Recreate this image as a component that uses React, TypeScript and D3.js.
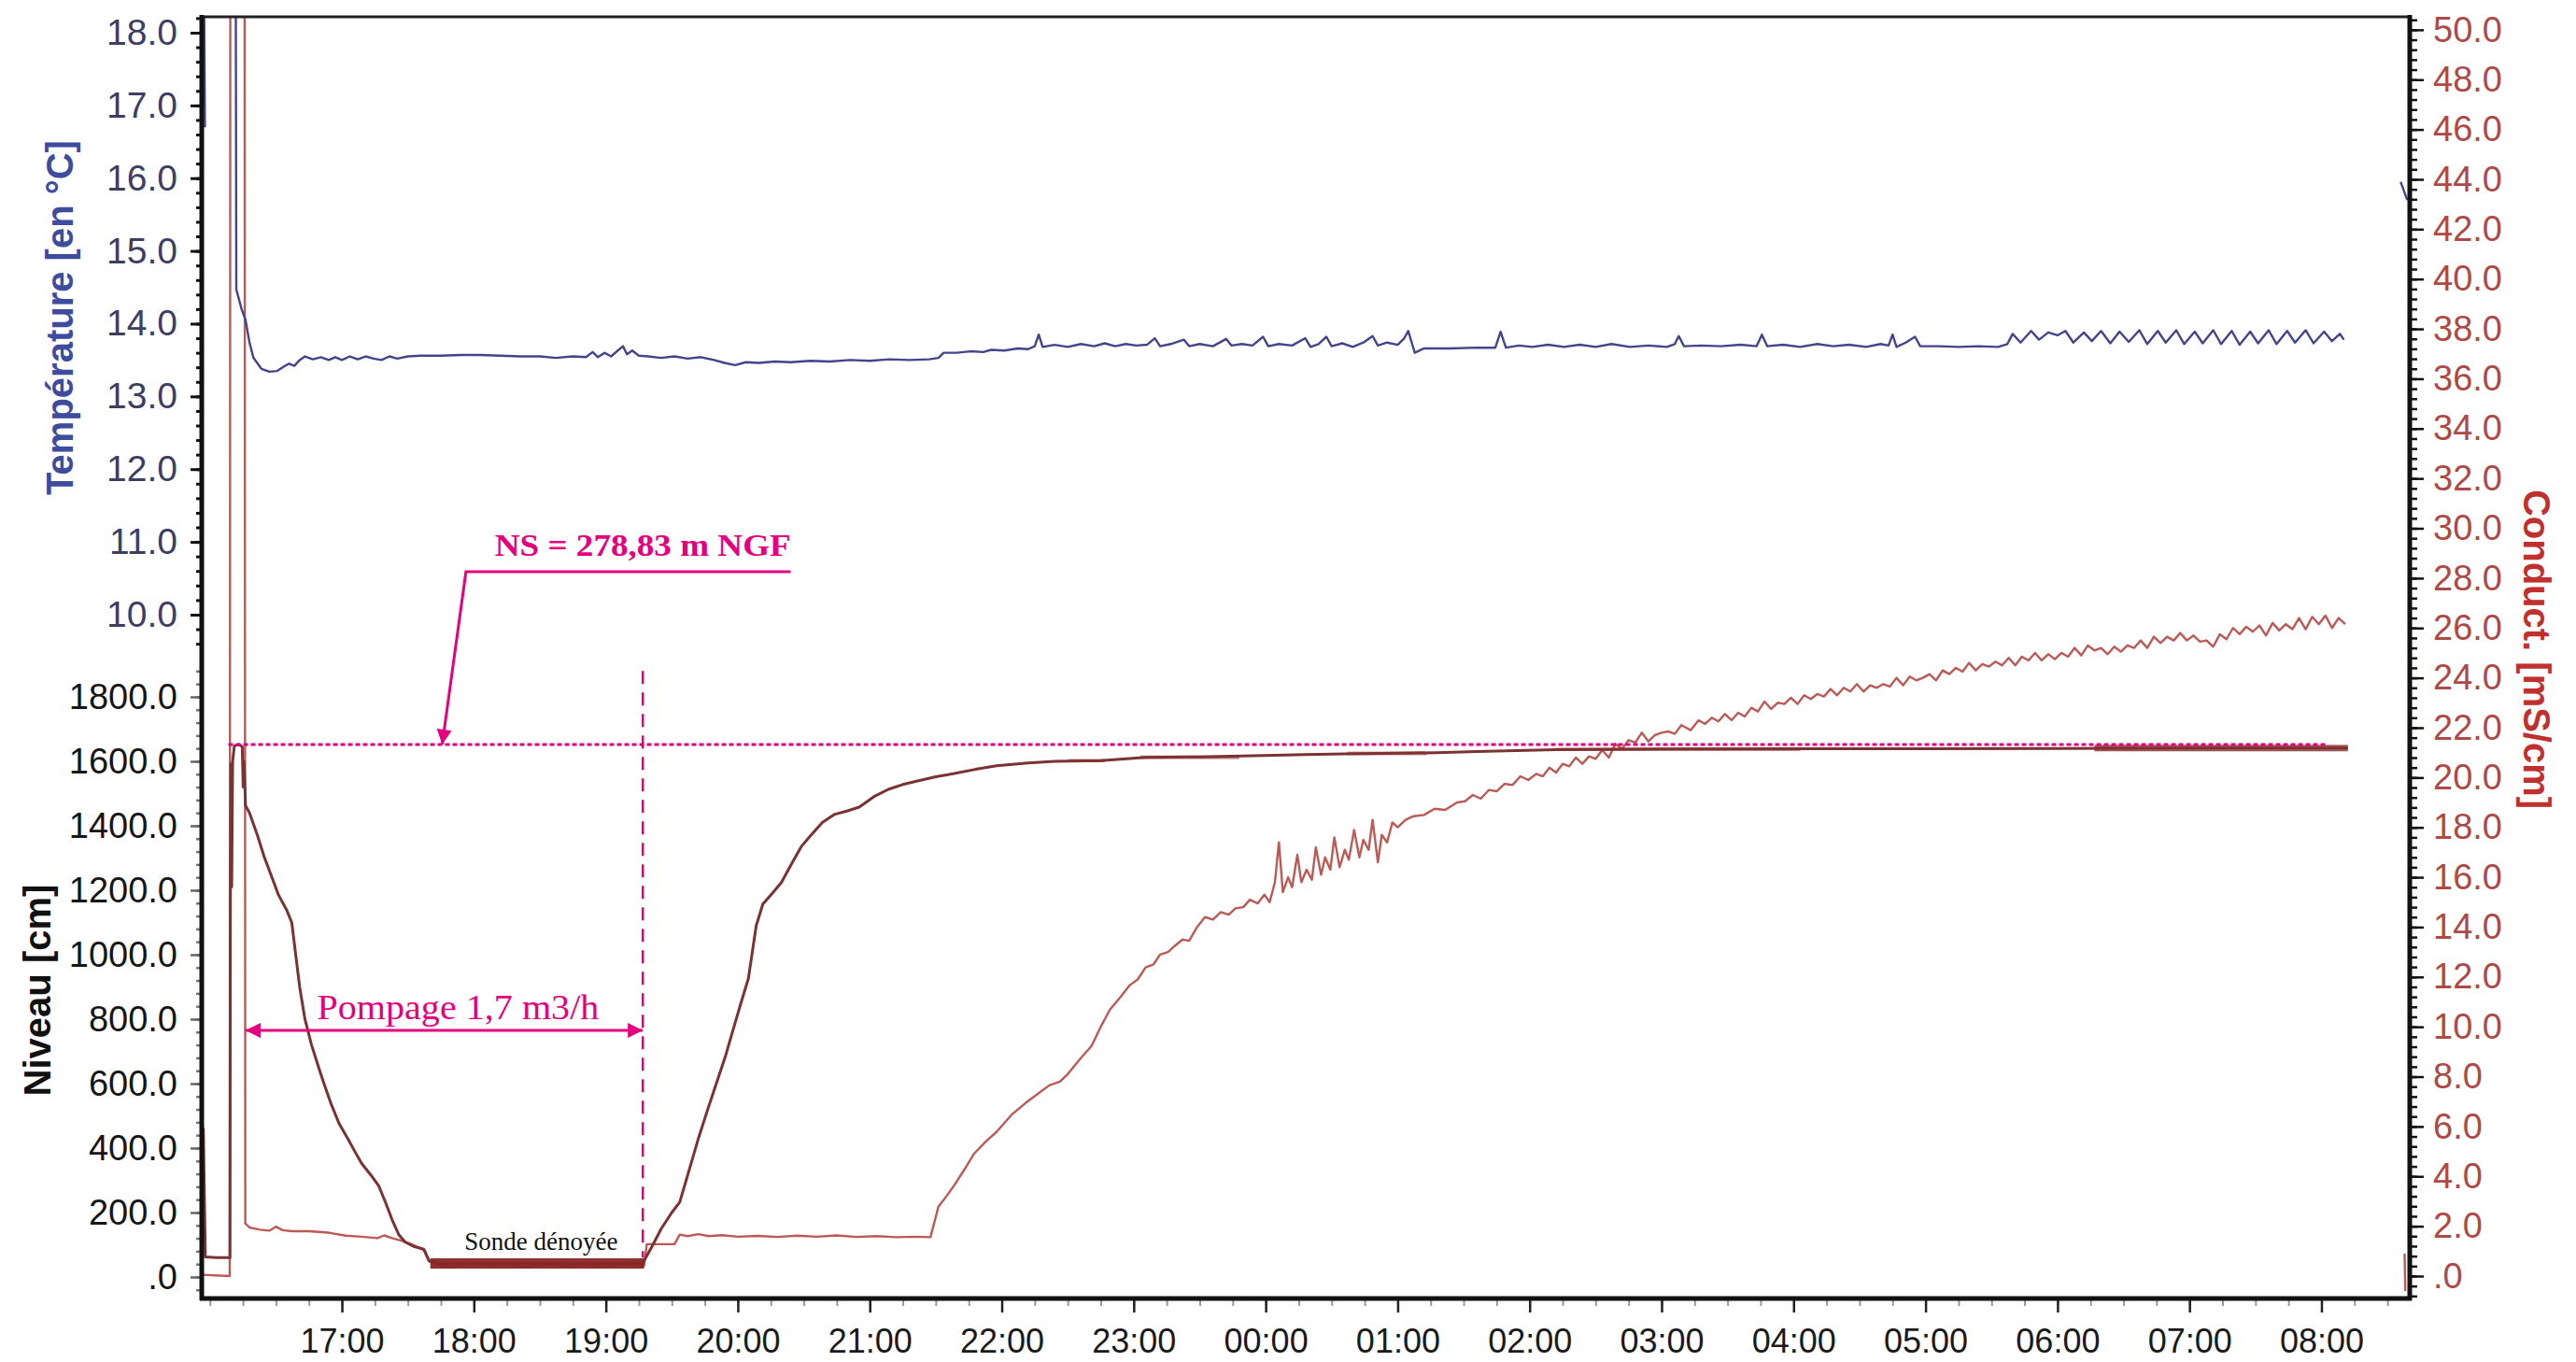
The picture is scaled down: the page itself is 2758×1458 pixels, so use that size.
import React, { useEffect, useRef } from 'react';
import * as d3 from 'd3';

const W = 2758;
const H = 1458;
const plot = { left: 216, right: 2580, top: 18, bottom: 1390 };

// time in decimal hours (values above 24 are the next morning)
const hourDomain = [15.938, 32.669];
const hourTicks = [17, 18, 19, 20, 21, 22, 23, 24, 25, 26, 27, 28, 29, 30, 31, 32];

const tempDomain = [0.6, 18.218];
const tempTicks = [10, 11, 12, 13, 14, 15, 16, 17, 18];
const levelDomain = [-66.7, 3910];
const levelTicks = [0, 200, 400, 600, 800, 1000, 1200, 1400, 1600, 1800];
const condDomain = [-0.9, 50.52];
const condTicks = [0, 2, 4, 6, 8, 10, 12, 14, 16, 18, 20, 22, 24, 26, 28, 30, 32, 34, 36, 38, 40, 42, 44, 46, 48, 50];

// Température [°C]
const temperatureHead = [[15.953, 19.5], [15.958, 17.9], [15.962, 16.7]];
const temperature = [
  [16.195, 19.5], [16.2, 14.47], [16.24, 14.2], [16.27, 14.05], [16.3, 13.74], [16.33, 13.53], [16.39, 13.38],
  [16.45, 13.34], [16.51, 13.35], [16.56, 13.41], [16.6, 13.45], [16.64, 13.42], [16.68, 13.5], [16.72, 13.55],
  [16.78, 13.51], [16.84, 13.54], [16.9, 13.5], [16.95, 13.54], [17.0, 13.5], [17.06, 13.55], [17.12, 13.51],
  [17.18, 13.55], [17.24, 13.52], [17.3, 13.5], [17.36, 13.55], [17.42, 13.52], [17.5, 13.55], [17.6, 13.56],
  [17.75, 13.56], [17.9, 13.57], [18.05, 13.57], [18.2, 13.56], [18.35, 13.55], [18.5, 13.55], [18.62, 13.53],
  [18.75, 13.55], [18.85, 13.54], [18.9, 13.61], [18.94, 13.54], [18.99, 13.6], [19.04, 13.55], [19.09, 13.63],
  [19.13, 13.69], [19.16, 13.58], [19.2, 13.63], [19.25, 13.56], [19.32, 13.55], [19.42, 13.53], [19.52, 13.55],
  [19.62, 13.52], [19.72, 13.54], [19.82, 13.5], [19.9, 13.46], [19.98, 13.43], [20.06, 13.47], [20.16, 13.46],
  [20.28, 13.48], [20.4, 13.47], [20.55, 13.49], [20.7, 13.48], [20.85, 13.5], [21.0, 13.49], [21.15, 13.51],
  [21.3, 13.5], [21.45, 13.51], [21.52, 13.53], [21.56, 13.6], [21.66, 13.6], [21.76, 13.62], [21.86, 13.61],
  [21.92, 13.64], [22.02, 13.63], [22.12, 13.66], [22.2, 13.65], [22.25, 13.69], [22.28, 13.85], [22.31, 13.68],
  [22.4, 13.71], [22.5, 13.68], [22.6, 13.72], [22.7, 13.69], [22.78, 13.73], [22.86, 13.69], [22.94, 13.72],
  [23.02, 13.7], [23.1, 13.71], [23.16, 13.8], [23.2, 13.69], [23.28, 13.72], [23.38, 13.78], [23.42, 13.69],
  [23.5, 13.72], [23.6, 13.69], [23.7, 13.79], [23.74, 13.7], [23.82, 13.72], [23.9, 13.7], [23.98, 13.82],
  [24.02, 13.69], [24.1, 13.72], [24.2, 13.7], [24.3, 13.8], [24.34, 13.68], [24.4, 13.72], [24.46, 13.82],
  [24.5, 13.69], [24.58, 13.73], [24.66, 13.68], [24.74, 13.74], [24.81, 13.83], [24.85, 13.7], [24.92, 13.74],
  [25.0, 13.71], [25.05, 13.8], [25.08, 13.9], [25.13, 13.6], [25.2, 13.66], [25.4, 13.66], [25.6, 13.67],
  [25.74, 13.67], [25.78, 13.89], [25.82, 13.67], [25.92, 13.7], [26.02, 13.68], [26.14, 13.71], [26.26, 13.68],
  [26.38, 13.71], [26.5, 13.68], [26.62, 13.72], [26.76, 13.68], [26.9, 13.7], [27.04, 13.68], [27.1, 13.72],
  [27.13, 13.83], [27.17, 13.69], [27.3, 13.7], [27.45, 13.69], [27.6, 13.71], [27.72, 13.69], [27.76, 13.85],
  [27.8, 13.69], [27.92, 13.71], [28.05, 13.68], [28.18, 13.72], [28.3, 13.69], [28.42, 13.71], [28.55, 13.68],
  [28.66, 13.72], [28.72, 13.7], [28.75, 13.85], [28.78, 13.68], [28.85, 13.74], [28.92, 13.82], [28.96, 13.69],
  [29.1, 13.69], [29.25, 13.68], [29.4, 13.69], [29.55, 13.68], [29.62, 13.72], [29.66, 13.86], [29.72, 13.74],
  [29.8, 13.9], [29.86, 13.78], [29.93, 13.88], [30.0, 13.84], [30.06, 13.9], [30.12, 13.74], [30.2, 13.88],
  [30.26, 13.76], [30.33, 13.9], [30.4, 13.73], [30.47, 13.89], [30.54, 13.75], [30.62, 13.91], [30.68, 13.72],
  [30.76, 13.9], [30.82, 13.74], [30.9, 13.91], [30.96, 13.72], [31.04, 13.89], [31.1, 13.73], [31.18, 13.91],
  [31.24, 13.72], [31.32, 13.9], [31.38, 13.71], [31.46, 13.89], [31.52, 13.73], [31.6, 13.91], [31.66, 13.72],
  [31.74, 13.9], [31.8, 13.74], [31.88, 13.91], [31.94, 13.73], [32.02, 13.89], [32.08, 13.76], [32.14, 13.86],
  [32.17, 13.78],
];
const temperatureTail = [[32.6, 15.95], [32.65, 15.7]];

// Niveau [cm]
const level = [
  [15.95, 462], [15.958, 250], [15.965, 62], [16.05, 60], [16.152, 60], [16.155, 1180], [16.16, 1592],
  [16.165, 1210], [16.172, 1600], [16.185, 1648], [16.22, 1652], [16.245, 1645], [16.252, 1520], [16.258, 1600],
  [16.27, 1462], [16.3, 1440], [16.36, 1370], [16.41, 1305], [16.47, 1240], [16.52, 1185], [16.58, 1140],
  [16.62, 1100], [16.65, 1000], [16.68, 900], [16.72, 800], [16.77, 720], [16.82, 655], [16.86, 605],
  [16.92, 535], [16.98, 475], [17.05, 425], [17.1, 388], [17.15, 352], [17.22, 316], [17.28, 282],
  [17.33, 232], [17.38, 178], [17.43, 132], [17.48, 108], [17.55, 94], [17.62, 86], [17.66, 50],
  [17.75, 42], [18.2, 43], [18.7, 41], [19.28, 43],
  [19.3, 58], [19.35, 95], [19.42, 150], [19.5, 200], [19.56, 232], [19.63, 330], [19.7, 428], [19.78, 530],
  [19.85, 616], [19.91, 690], [19.96, 761], [20.02, 845], [20.08, 926], [20.14, 1091], [20.19, 1157],
  [20.26, 1190], [20.33, 1224], [20.42, 1291], [20.48, 1335], [20.55, 1369], [20.64, 1410], [20.73, 1435],
  [20.82, 1445], [20.92, 1458], [21.03, 1490], [21.14, 1513], [21.25, 1528], [21.37, 1540], [21.5, 1552],
  [21.64, 1562], [21.8, 1575], [21.96, 1586], [22.2, 1595], [22.4, 1600], [22.75, 1602], [23.09, 1612],
  [23.5, 1614], [23.99, 1618], [24.3, 1621], [24.6, 1623], [25.0, 1625], [25.3, 1627], [25.6, 1630],
  [25.9, 1633], [26.2, 1636], [27.0, 1638], [28.0, 1639], [29.0, 1639], [30.0, 1640], [31.0, 1641],
  [32.2, 1641],
];
// noisy stretches of the level record: [from h, to h, low cm, high cm]
const levelNoise = [
  [17.67, 19.29, 26, 58], [22.5, 22.78, 1597, 1607], [23.05, 23.8, 1607, 1618],
  [24.62, 25.22, 1619, 1630], [26.2, 28.05, 1632, 1642], [30.28, 32.2, 1631, 1651],
];

// Conduct. [mS/cm]
const conductivity = [
  [15.94, 0.05], [16.15, 0.0], [16.155, 60], [16.262, 60], [16.268, 2.1], [16.3, 1.95], [16.38, 1.86],
  [16.45, 1.82], [16.5, 1.98], [16.55, 1.84], [16.62, 1.8], [16.75, 1.8], [16.9, 1.74], [17.03, 1.62],
  [17.15, 1.58], [17.27, 1.52], [17.32, 1.63], [17.38, 1.52], [17.45, 1.42], [17.52, 1.3], [17.58, 1.15],
  [17.63, 1.02], [17.66, 0.6], [17.72, 0.45], [17.85, 0.38], [17.98, 0.48], [18.1, 0.4], [18.25, 0.46],
  [18.4, 0.36], [18.55, 0.47], [18.7, 0.4], [18.85, 0.45], [19.0, 0.38], [19.15, 0.47], [19.29, 0.42],
  [19.31, 1.28], [19.52, 1.28], [19.56, 1.66], [19.62, 1.6], [19.7, 1.68], [19.78, 1.6], [19.88, 1.64],
  [20.0, 1.58], [20.15, 1.61], [20.3, 1.57], [20.45, 1.62], [20.6, 1.58], [20.75, 1.63], [20.9, 1.57],
  [21.05, 1.6], [21.2, 1.56], [21.35, 1.58], [21.46, 1.56],
  [21.52, 2.78], [21.58, 3.2], [21.64, 3.64], [21.72, 4.3], [21.79, 4.91], [21.88, 5.4], [21.96, 5.78],
  [22.08, 6.5], [22.18, 6.94], [22.27, 7.3], [22.36, 7.65], [22.44, 7.8], [22.5, 8.1], [22.6, 8.75],
  [22.68, 9.23], [22.75, 10.0], [22.82, 10.69], [22.9, 11.2], [22.97, 11.67], [23.03, 11.9], [23.09, 12.38],
  [23.15, 12.5], [23.2, 12.9], [23.26, 13.0], [23.31, 13.24], [23.37, 13.5], [23.42, 13.45], [23.48, 14.0],
  [23.54, 14.4], [23.6, 14.3], [23.66, 14.6], [23.72, 14.5], [23.77, 14.75], [23.83, 14.8], [23.88, 15.1],
  [23.94, 14.95], [23.99, 15.3], [24.03, 15.0], [24.07, 15.8], [24.1, 17.4], [24.13, 15.4], [24.17, 16.0],
  [24.2, 15.6], [24.24, 16.9], [24.27, 15.8], [24.31, 16.3], [24.35, 15.9], [24.38, 17.2], [24.42, 16.1],
  [24.45, 16.8], [24.49, 16.3], [24.52, 17.6], [24.56, 16.4], [24.6, 17.1], [24.63, 16.7], [24.67, 17.9],
  [24.71, 16.8], [24.74, 17.5], [24.78, 17.1], [24.81, 18.3], [24.85, 16.6], [24.88, 17.7], [24.92, 17.4],
  [24.96, 18.2], [25.0, 18.0], [25.06, 18.3], [25.12, 18.45], [25.2, 18.5], [25.28, 18.75], [25.36, 18.7],
  [25.45, 19.0], [25.51, 19.05], [25.57, 19.3], [25.63, 19.15], [25.69, 19.5], [25.75, 19.45], [25.81, 19.75],
  [25.87, 19.7], [25.93, 20.05], [25.99, 19.9], [26.05, 20.15], [26.1, 20.05], [26.15, 20.4], [26.2, 20.2],
  [26.25, 20.55], [26.3, 20.45], [26.35, 20.8], [26.4, 20.55], [26.45, 20.85], [26.5, 20.75], [26.55, 21.1],
  [26.6, 20.8], [26.65, 21.35], [26.7, 21.15], [26.75, 21.5], [26.8, 21.4], [26.85, 21.8], [26.9, 21.45],
  [26.95, 21.7], [27.0, 21.8], [27.05, 21.85], [27.1, 21.75], [27.15, 22.1], [27.22, 21.9], [27.28, 22.3],
  [27.33, 22.15], [27.38, 22.4], [27.43, 22.25], [27.48, 22.55], [27.53, 22.3], [27.58, 22.6], [27.63, 22.45],
  [27.68, 22.8], [27.73, 22.65], [27.78, 23.05], [27.83, 22.75], [27.88, 23.0], [27.93, 22.95], [27.98, 23.2],
  [28.03, 22.95], [28.08, 23.3], [28.13, 23.15], [28.18, 23.35], [28.23, 23.25], [28.28, 23.55], [28.33, 23.3],
  [28.38, 23.6], [28.43, 23.45], [28.48, 23.75], [28.53, 23.45], [28.58, 23.7], [28.63, 23.6], [28.68, 23.75],
  [28.73, 23.65], [28.78, 24.0], [28.83, 23.7], [28.88, 24.05], [28.93, 23.9], [28.98, 24.0], [29.03, 24.15],
  [29.08, 23.9], [29.13, 24.3], [29.18, 24.15], [29.23, 24.4], [29.28, 24.25], [29.33, 24.6], [29.38, 24.3],
  [29.43, 24.55], [29.48, 24.45], [29.53, 24.65], [29.58, 24.5], [29.63, 24.8], [29.68, 24.5], [29.73, 24.85],
  [29.78, 24.7], [29.83, 25.0], [29.88, 24.7], [29.93, 24.95], [29.98, 24.75], [30.03, 25.0], [30.08, 24.85],
  [30.13, 25.2], [30.18, 24.9], [30.23, 25.3], [30.28, 25.1], [30.33, 25.2], [30.38, 24.95], [30.43, 25.25],
  [30.48, 25.05], [30.53, 25.3], [30.58, 25.2], [30.63, 25.5], [30.68, 25.2], [30.73, 25.65], [30.78, 25.4],
  [30.83, 25.65], [30.88, 25.5], [30.93, 25.8], [30.98, 25.5], [31.03, 25.7], [31.08, 25.45], [31.13, 25.5],
  [31.18, 25.25], [31.23, 25.75], [31.28, 25.55], [31.33, 26.0], [31.38, 25.75], [31.43, 26.05], [31.48, 25.85],
  [31.53, 26.1], [31.58, 25.7], [31.63, 26.2], [31.68, 25.9], [31.73, 26.15], [31.78, 25.95], [31.83, 26.4],
  [31.88, 25.95], [31.93, 26.45], [31.98, 26.15], [32.03, 26.5], [32.08, 26.0], [32.13, 26.4], [32.18, 26.15],
];
const conductivityTail = [[32.63, 0.9], [32.635, -0.6]];

// annotations (hours, cm on the level axis)
const nsLabel = 'NS = 278,83 m NGF';
const nsLevel = 1652;
const nsSpan = [16.14, 32.05];
const nsLeader = [[20.4, 2188], [17.94, 2188], [17.76, 1652]];
const nsText = [19.28, 2238];
const pumpLabel = 'Pompage 1,7 m3/h';
const pumpSpan = [16.27, 19.28];
const pumpLevel = 765;
const pumpText = [17.88, 800];
const pumpEnd = [1880, 60];
const dryLabel = 'Sonde dénoyée';
const dryText = [18.51, 84];

const MAGENTA = '#e5007e';
const fmt = (v: number) => (v === 0 ? '.0' : v.toFixed(1));
const hh = (h: number) => `${String(h % 24).padStart(2, '0')}:00`;

const App = () => {
  const svgRef = useRef<SVGSVGElement>(null);

  useEffect(() => {
    const svg = d3.select(svgRef.current);
    svg.selectAll('*').remove();

    const x = d3.scaleLinear().domain(hourDomain).range([plot.left, plot.right]);
    const yT = d3.scaleLinear().domain(tempDomain).range([plot.bottom, plot.top]);
    const yL = d3.scaleLinear().domain(levelDomain).range([plot.bottom, plot.top]);
    const yC = d3.scaleLinear().domain(condDomain).range([plot.bottom, plot.top]);

    const defs = svg.append('defs');
    defs.append('clipPath').attr('id', 'plotClip').append('rect')
      .attr('x', plot.left).attr('y', plot.top)
      .attr('width', plot.right - plot.left).attr('height', plot.bottom - plot.top);
    defs.append('marker').attr('id', 'arrowMag')
      .attr('viewBox', '0 0 10 10').attr('refX', 10).attr('refY', 5)
      .attr('markerUnits', 'userSpaceOnUse').attr('markerWidth', 22).attr('markerHeight', 16)
      .attr('orient', 'auto-start-reverse')
      .append('path').attr('d', 'M0,0 L10,5 L0,10 z').attr('fill', MAGENTA);

    svg.append('rect').attr('width', W).attr('height', H).attr('fill', '#ffffff');

    // series
    const series = svg.append('g').attr('clip-path', 'url(#plotClip)');
    const lineC = d3.line<number[]>().x(d => x(d[0])).y(d => yC(d[1]));
    const lineL = d3.line<number[]>().x(d => x(d[0])).y(d => yL(d[1]));
    const lineT = d3.line<number[]>().x(d => x(d[0])).y(d => yT(d[1]));

    [conductivity, conductivityTail].forEach(s => series.append('path')
      .attr('d', lineC(s)).attr('fill', 'none').attr('stroke', '#bb5a56')
      .attr('stroke-width', 2.4).attr('stroke-linejoin', 'round'));
    series.append('path').attr('d', lineL(level)).attr('fill', 'none')
      .attr('stroke', '#7a3232').attr('stroke-width', 3).attr('stroke-linejoin', 'round');
    series.selectAll('rect.noise').data(levelNoise).join('rect').attr('class', 'noise')
      .attr('x', d => x(d[0])).attr('width', d => x(d[1]) - x(d[0]))
      .attr('y', d => yL(d[3])).attr('height', d => yL(d[2]) - yL(d[3]))
      .attr('fill', (d, i) => (i === 0 ? '#8a2626' : '#86302f'))
      .attr('opacity', (d, i) => (i === 0 ? 0.95 : i === 5 ? 0.8 : 0.6));
    [temperatureHead, temperature, temperatureTail].forEach(s => series.append('path')
      .attr('d', lineT(s)).attr('fill', 'none').attr('stroke', '#44448c')
      .attr('stroke-width', 2.4).attr('stroke-linejoin', 'round'));

    // frame
    svg.append('line').attr('x1', plot.left).attr('x2', plot.right)
      .attr('y1', plot.top).attr('y2', plot.top).attr('stroke', '#222').attr('stroke-width', 3);

    const styleAxis = (g, color, size) => {
      g.select('.domain').remove();
      g.attr('font-family', '"Liberation Sans", Arial, sans-serif').attr('font-size', size);
      g.selectAll('text').attr('fill', color);
    };

    // temperature axis (left, upper)
    svg.append('g').attr('transform', `translate(${plot.left},0)`)
      .call(d3.axisLeft(yT).tickValues(d3.range(9.6, 18.25, 0.2)).tickSize(6).tickFormat(() => ''))
      .call(g => { g.select('.domain').remove(); g.selectAll('line').attr('stroke', '#111').attr('stroke-width', 3); });
    svg.append('g').attr('transform', `translate(${plot.left},0)`)
      .call(d3.axisLeft(yT).tickValues(tempTicks).tickSize(12).tickPadding(14).tickFormat(fmt))
      .call(g => { styleAxis(g, '#3e3e62', 39); g.selectAll('line').attr('stroke', '#111').attr('stroke-width', 3); });

    // level axis (left, lower)
    svg.append('g').attr('transform', `translate(${plot.left},0)`)
      .call(d3.axisLeft(yL).tickValues(d3.range(-40, 1881, 40)).tickSize(6).tickFormat(() => ''))
      .call(g => { g.select('.domain').remove(); g.selectAll('line').attr('stroke', '#777').attr('stroke-width', 2.5); });
    svg.append('g').attr('transform', `translate(${plot.left},0)`)
      .call(d3.axisLeft(yL).tickValues(levelTicks).tickSize(12).tickPadding(14).tickFormat(fmt))
      .call(g => { styleAxis(g, '#161616', 38); g.selectAll('line').attr('stroke', '#666').attr('stroke-width', 2.5); });

    // conductivity axis (right)
    svg.append('g').attr('transform', `translate(${plot.right},0)`)
      .call(d3.axisRight(yC).tickValues(d3.range(-0.8, 50.5, 0.4)).tickSize(8).tickFormat(() => ''))
      .call(g => { g.select('.domain').remove(); g.selectAll('line').attr('stroke', '#111').attr('stroke-width', 2.5); });
    svg.append('g').attr('transform', `translate(${plot.right},0)`)
      .call(d3.axisRight(yC).tickValues(condTicks).tickSize(15).tickPadding(10).tickFormat(fmt))
      .call(g => { styleAxis(g, '#ad4a47', 38); g.selectAll('line').attr('stroke', '#111').attr('stroke-width', 2.5); });

    // time axis (bottom)
    svg.append('g').attr('transform', `translate(0,${plot.bottom})`)
      .call(d3.axisBottom(x).tickValues(d3.range(16, 32.7, 0.25)).tickSize(8).tickFormat(() => ''))
      .call(g => { g.select('.domain').remove(); g.selectAll('line').attr('stroke', '#999').attr('stroke-width', 2); });
    svg.append('g').attr('transform', `translate(0,${plot.bottom})`)
      .call(d3.axisBottom(x).tickValues(hourTicks).tickSize(15).tickPadding(17).tickFormat(hh))
      .call(g => { styleAxis(g, '#1a1a1a', 36); g.selectAll('line').attr('stroke', '#222').attr('stroke-width', 2.5); });

    // thick axis lines
    svg.append('line').attr('x1', plot.left).attr('x2', plot.left).attr('y1', plot.top - 2).attr('y2', plot.bottom + 2)
      .attr('stroke', '#111').attr('stroke-width', 5);
    svg.append('line').attr('x1', plot.right).attr('x2', plot.right).attr('y1', plot.top - 2).attr('y2', plot.bottom + 2)
      .attr('stroke', '#111').attr('stroke-width', 5);
    svg.append('line').attr('x1', plot.left - 2).attr('x2', plot.right + 2).attr('y1', plot.bottom).attr('y2', plot.bottom)
      .attr('stroke', '#111').attr('stroke-width', 5);

    // axis titles
    const title = (tx, ty, rot, text, color) => svg.append('text')
      .attr('transform', `translate(${tx},${ty}) rotate(${rot})`)
      .attr('text-anchor', 'middle').attr('dy', '0.35em')
      .attr('font-family', '"Liberation Sans", Arial, sans-serif').attr('font-weight', 'bold')
      .attr('font-size', 40).attr('fill', color).text(text);
    title(64, 340, -90, 'Température [en °C]', '#3d4c9c');
    title(40, 1060, -90, 'Niveau [cm]', '#111');
    title(2716, 695, 90, 'Conduct. [mS/cm]', '#c0302e');

    // annotations
    const ann = svg.append('g');
    ann.append('line')
      .attr('x1', x(nsSpan[0])).attr('x2', x(nsSpan[1])).attr('y1', yL(nsLevel)).attr('y2', yL(nsLevel))
      .attr('stroke', MAGENTA).attr('stroke-width', 3).attr('stroke-dasharray', '5 3');
    ann.append('line')
      .attr('x1', x(pumpSpan[1])).attr('x2', x(pumpSpan[1])).attr('y1', yL(pumpEnd[0])).attr('y2', yL(pumpEnd[1]))
      .attr('stroke', MAGENTA).attr('stroke-width', 2.5).attr('stroke-dasharray', '14 9');
    ann.append('path')
      .attr('d', d3.line<number[]>().x(d => x(d[0])).y(d => yL(d[1]))(nsLeader))
      .attr('fill', 'none').attr('stroke', MAGENTA).attr('stroke-width', 3).attr('marker-end', 'url(#arrowMag)');
    ann.append('text').attr('x', x(nsText[0])).attr('y', yL(nsText[1])).attr('text-anchor', 'middle')
      .attr('font-family', '"Liberation Serif", serif').attr('font-weight', 'bold').attr('font-size', 34)
      .attr('textLength', 317).attr('lengthAdjust', 'spacingAndGlyphs').attr('fill', MAGENTA).text(nsLabel);
    ann.append('line')
      .attr('x1', x(pumpSpan[0])).attr('x2', x(pumpSpan[1])).attr('y1', yL(pumpLevel)).attr('y2', yL(pumpLevel))
      .attr('stroke', MAGENTA).attr('stroke-width', 3)
      .attr('marker-start', 'url(#arrowMag)').attr('marker-end', 'url(#arrowMag)');
    ann.append('text').attr('x', x(pumpText[0])).attr('y', yL(pumpText[1])).attr('text-anchor', 'middle')
      .attr('font-family', '"Liberation Serif", serif').attr('font-size', 37)
      .attr('textLength', 302).attr('lengthAdjust', 'spacingAndGlyphs').attr('fill', MAGENTA).text(pumpLabel);
    ann.append('text').attr('x', x(dryText[0])).attr('y', yL(dryText[1])).attr('text-anchor', 'middle')
      .attr('font-family', '"Liberation Serif", serif').attr('font-size', 27)
      .attr('fill', '#111').text(dryLabel);

    return () => { svg.selectAll('*').remove(); };
  }, []);

  return (
    <svg ref={svgRef} width={W} height={H}
      style={{ position: 'absolute', left: 0, top: 0, display: 'block', background: '#fff' }} />
  );
};

export default App;
